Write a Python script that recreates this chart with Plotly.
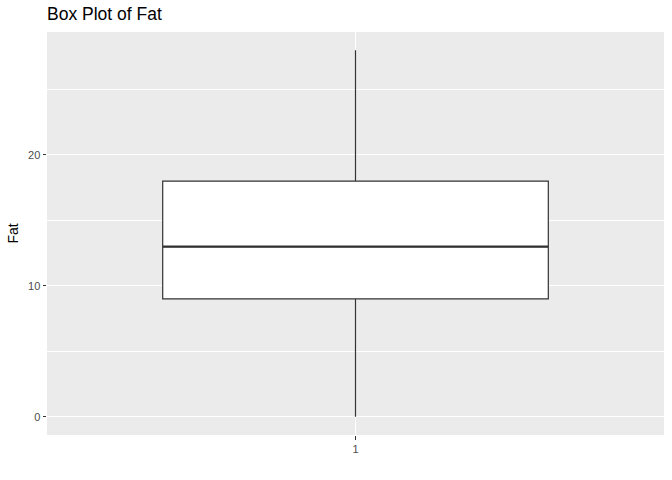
import plotly.graph_objects as go

categories = [1]
tick_labels = ["1"]
lower_whisker = [0]
q1 = [9]
median = [13]
q3 = [18]
upper_whisker = [28]

box_width = 0.75

fig = go.Figure()
fig.add_trace(go.Box(
    x=categories, q1=q1, median=median, q3=q3,
    lowerfence=lower_whisker, upperfence=upper_whisker,
    width=box_width, fillcolor="white",
    line=dict(color="#333333", width=1.2),
    whiskerwidth=0, boxpoints=False, showlegend=False, hoverinfo="skip",
))
# thicker median line as in ggplot2
for c, m in zip(categories, median):
    fig.add_trace(go.Scatter(
        x=[c - box_width / 2, c + box_width / 2], y=[m, m], mode="lines",
        line=dict(color="#333333", width=2.4), showlegend=False, hoverinfo="skip",
    ))

W, H = 672, 480
fig.update_layout(
    width=W, height=H,
    paper_bgcolor="white", plot_bgcolor="#EBEBEB",
    margin=dict(l=47, r=8, t=32, b=45, autoexpand=False),
    font=dict(family="Liberation Sans, Arial, sans-serif", color="#4D4D4D"),
    title=dict(text="Box Plot of Fat", x=47/W, xanchor="left", y=1 - 14/H, yanchor="middle",
               font=dict(size=17.5, color="black")),
    xaxis=dict(range=[0.4, 1.6], tickvals=categories, ticktext=tick_labels, automargin=False,
               showgrid=True, gridcolor="white", gridwidth=1.1, zeroline=False,
               ticks="outside", ticklen=3.5, tickcolor="#333333", tickwidth=1,
               tickfont=dict(size=11, color="#4D4D4D"), showline=False),
    yaxis=dict(range=[-1.4, 29.4], tickvals=[0, 10, 20], automargin=False,
               showgrid=True, gridcolor="white", gridwidth=1.1, zeroline=False,
               ticks="outside", ticklen=3.5, tickcolor="#333333", tickwidth=1,
               tickfont=dict(size=11, color="#4D4D4D"), showline=False,
               minor=dict(tickvals=[5, 15, 25], showgrid=True, gridcolor="white", gridwidth=0.5, ticks=""),
               title=dict(text="Fat", font=dict(size=14, color="black"), standoff=6)),
)

# remove the browser's default 8px body margin so the figure fills the window
fig.write_html("out.html", config={"displayModeBar": False},
               post_script="document.body.style.margin='0';")
